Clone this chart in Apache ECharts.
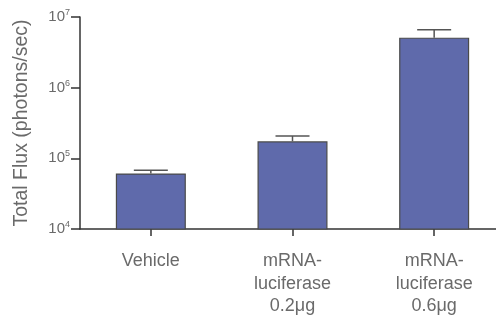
<!DOCTYPE html>
<html>
<head>
<meta charset="utf-8">
<script src="https://cdn.jsdelivr.net/npm/echarts@6/dist/echarts.min.js"></script>
<style>
  html, body { margin: 0; padding: 0; background: #fff; }
  #chart { width: 496px; height: 316px; }
</style>
</head>
<body>
<div id="chart"></div>
<script>
const categories = ['Vehicle', 'mRNA-\nluciferase\n0.2μg', 'mRNA-\nluciferase\n0.6μg'];
const fluxMean = [61000, 174000, 5100000];
const fluxErrTop = [68000, 207000, 6600000];
const yTicks = [1e4, 1e5, 1e6, 1e7];

const chart = echarts.init(document.getElementById('chart'));

const option = {
  animation: false,
  grid: { left: 80, width: 425, top: 17, bottom: 87, outerBoundsMode: 'none', containLabel: false },
  xAxis: {
    type: 'category',
    data: categories,
    axisLine: { show: true, lineStyle: { color: '#333', width: 1.5 } },
    axisTick: { show: true, alignWithLabel: true, length: 7, lineStyle: { color: '#333', width: 1.5 } },
    axisLabel: { color: '#6a6a6a', fontSize: 18, fontFamily: 'Liberation Sans', lineHeight: 22.5, margin: 21, interval: 0 }
  },
  yAxis: {
    type: 'log',
    logBase: 10,
    min: 1e4,
    max: 1e7,
    name: 'Total Flux (photons/sec)',
    nameLocation: 'middle',
    nameGap: 48,
    nameTextStyle: { color: '#6a6a6a', fontSize: 19.5, fontFamily: 'Liberation Sans' },
    splitLine: { show: false },
    minorTick: { show: false },
    axisLine: { show: true, lineStyle: { color: '#333', width: 1.5 } },
    axisTick: { show: true, length: 9, lineStyle: { color: '#333', width: 1.5 } },
    axisLabel: {
      margin: 10,
      formatter: function (v) {
        if (yTicks.indexOf(v) < 0) return '';
        return '{b|10}{s|' + Math.round(Math.log10(v)) + '}';
      },
      rich: {
        b: { color: '#6a6a6a', fontSize: 15, fontFamily: 'Liberation Sans' },
        s: { color: '#6a6a6a', fontSize: 9, fontFamily: 'Liberation Sans', verticalAlign: 'bottom', padding: [0, 0, 9, 0] }
      }
    }
  },
  series: [
    {
      type: 'bar',
      data: fluxMean,
      barWidth: 70,
      itemStyle: { color: '#5f6aab', borderColor: '#4a4a4a', borderWidth: 1.2 },
      z: 2
    },
    {
      type: 'custom',
      data: fluxMean.map((m, i) => [i, m, fluxErrTop[i]]),
      renderItem: function (params, api) {
        const base = api.coord([api.value(0), api.value(1)]);
        const top = api.coord([api.value(0), api.value(2)]);
        const half = 17;
        const style = { stroke: '#555', lineWidth: 1.5 };
        return {
          type: 'group',
          children: [
            { type: 'line', shape: { x1: base[0], y1: base[1], x2: top[0], y2: top[1] }, style: style },
            { type: 'line', shape: { x1: top[0] - half, y1: top[1], x2: top[0] + half, y2: top[1] }, style: style }
          ]
        };
      },
      z: 3
    }
  ]
};

chart.setOption(option);
</script>
</body>
</html>
